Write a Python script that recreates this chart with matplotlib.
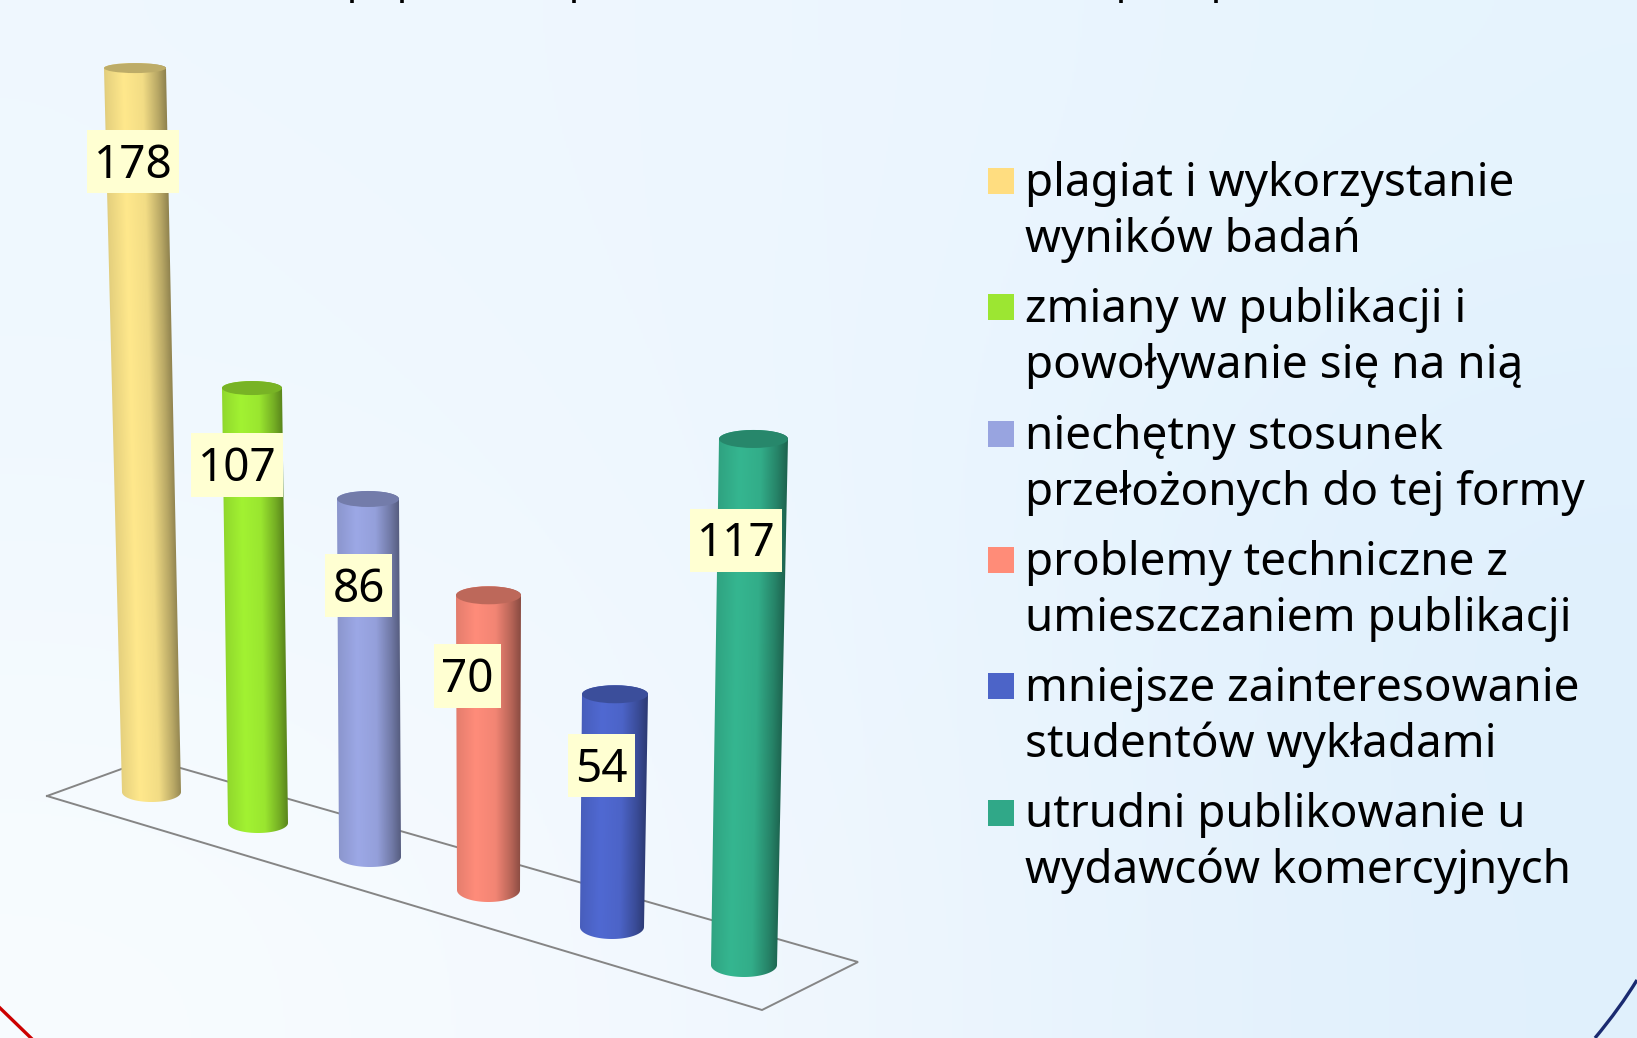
import numpy as np
import matplotlib
matplotlib.use("Agg")
import matplotlib.pyplot as plt
from matplotlib.colors import to_rgb
from matplotlib.patches import Ellipse, PathPatch, Rectangle
from matplotlib.path import Path
from matplotlib.transforms import Affine2D

# Chart data
categories = [
    "plagiat i wykorzystanie\nwyników badań",
    "zmiany w publikacji i\npowoływanie się na nią",
    "niechętny stosunek\nprzełożonych do tej formy",
    "problemy techniczne z\numieszczaniem publikacji",
    "mniejsze zainteresowanie\nstudentów wykładami",
    "utrudni publikowanie u\nwydawców komercyjnych",
]
values = [178, 107, 86, 70, 54, 117]

# Colours
bar_colors = ["#FFE88C", "#A2F232", "#9CA8E6", "#FF8C7A", "#5069D2", "#35B690"]
legend_colors = ["#FFDD80", "#9CE632", "#98A4E0", "#FF8C78", "#4C64C8", "#30A888"]
label_bg = "#FFFFD2"

# Perspective layout in pixels, one entry per bar
base_x = [151.5, 258, 370, 488.5, 612, 744]
base_y = [792, 823, 857, 890, 927, 965]
base_w = [59, 60, 62, 63, 64, 66]
top_x = [135, 252, 368, 488.5, 615, 753.5]
top_w = [62, 60, 62, 65, 66, 69]
top_semi = [5, 7, 8, 9, 9, 9]
base_semi = [10, 10, 10, 12, 12, 12]
unit_px = [4.067, 4.065, 4.163, 4.21, 4.31, 4.496]
label_box = [
    (87, 130, 92, 63), (191, 433, 92, 64), (325, 554, 67, 63),
    (434, 644, 67, 64), (568, 734, 67, 63), (690, 509, 92, 63),
]

W, H = 1637, 1038
fig = plt.figure(figsize=(W / 100, H / 100), dpi=100)
ax = fig.add_axes([0, 0, 1, 1])
ax.set_xlim(0, W)
ax.set_ylim(H, 0)
ax.axis("off")

# Slide background
bg = np.array([
    [to_rgb("#EFF8FF"), to_rgb("#EEF6FE"), to_rgb("#E6F4FE")],
    [to_rgb("#F1F9FF"), to_rgb("#EEF7FF"), to_rgb("#DFF0FD")],
    [to_rgb("#F8FCFF"), to_rgb("#F1F7FE"), to_rgb("#E0F0FC")],
])
ax.imshow(bg, extent=(0, W, H, 0), aspect="auto", interpolation="bicubic", zorder=0)

# Slide decoration in the corners
ax.plot([0, 31], [1008, 1038], color="#CC0000", lw=2.4, zorder=1)
arc = Path([(1637, 980), (1620, 1008), (1595, 1038)], [Path.MOVETO, Path.CURVE3, Path.CURVE3])
ax.add_patch(PathPatch(arc, fill=False, edgecolor="#1A2A70", lw=2.4, zorder=1))

# What is left of the cut off title at the top edge
ax.vlines([352, 402, 574, 1121, 1216], -1, 3, color="black", lw=2.6, zorder=1)

# Floor
floor_x = [47, 762, 858, 149, 47]
floor_y = [796, 1010, 962, 759, 796]
ax.plot(floor_x, floor_y, color="#858585", lw=1.4, zorder=2, solid_joinstyle="miter")

# Cylinders
stops = [0, 0.06, 0.32, 0.6, 0.82, 1]
shade = [0.84, 0.9, 1.0, 0.95, 0.72, 0.48]
u = np.linspace(0, 1, 256)
strip = np.interp(u, stops, shade)[None, :, None]
theta = np.linspace(np.pi, 0, 60)
for i, value in enumerate(values):
    rgb = np.array(to_rgb(bar_colors[i]))
    top_y = base_y[i] - value * unit_px[i]

    # outline: round the front of the base left to right, then round the back of the top right to left
    bx = base_x[i] + np.cos(theta) * base_w[i] / 2
    by = base_y[i] + np.sin(theta) * base_semi[i]
    tx = top_x[i] + np.cos(theta[::-1]) * top_w[i] / 2
    ty = top_y - np.sin(theta[::-1]) * top_semi[i]
    outline = np.column_stack([np.r_[bx, tx], np.r_[by, ty]])
    body = Path(np.vstack([outline, outline[:1]]), closed=True)

    # horizontal shading strip sheared along the tilt of the bar, a bit wider than the outline
    half = max(base_w[i], top_w[i]) / 2 + 3
    tilt = (top_x[i] - base_x[i]) / (top_y - base_y[i])
    shear = Affine2D.from_values(1, 0, tilt, 1, base_x[i] - tilt * base_y[i], 0)
    im = ax.imshow(strip * rgb, extent=(-half, half, base_y[i] + 20, top_y - 20), aspect="auto",
                   interpolation="bilinear", zorder=3 + i * 0.1)
    im.set_transform(shear + ax.transData)
    im.set_clip_path(body, ax.transData)

    ax.add_patch(Ellipse((top_x[i], top_y), top_w[i], 2 * top_semi[i], facecolor=rgb * 0.74,
                         edgecolor="none", zorder=3.05 + i * 0.1))

# Value labels
for i, value in enumerate(values):
    bx, by, bw, bh = label_box[i]
    ax.add_patch(Rectangle((bx, by), bw, bh, facecolor=label_bg, edgecolor="none", zorder=5))
    ax.text(bx + bw / 2, by + bh / 2 + 4, str(value), fontsize=33, family="Noto Sans",
            ha="center", va="center", color="black", zorder=6)

# Legend
for i, name in enumerate(categories):
    row_y = 168 + i * 126.3
    ax.add_patch(Rectangle((988, row_y), 26, 26, facecolor=legend_colors[i], edgecolor="none", zorder=5))
    for j, line in enumerate(name.split("\n")):
        ax.text(1025, row_y + 28 + j * 56, line, fontsize=33, family="Noto Sans",
                ha="left", va="baseline", color="black", zorder=6)

fig.savefig("out.png", dpi=100)
